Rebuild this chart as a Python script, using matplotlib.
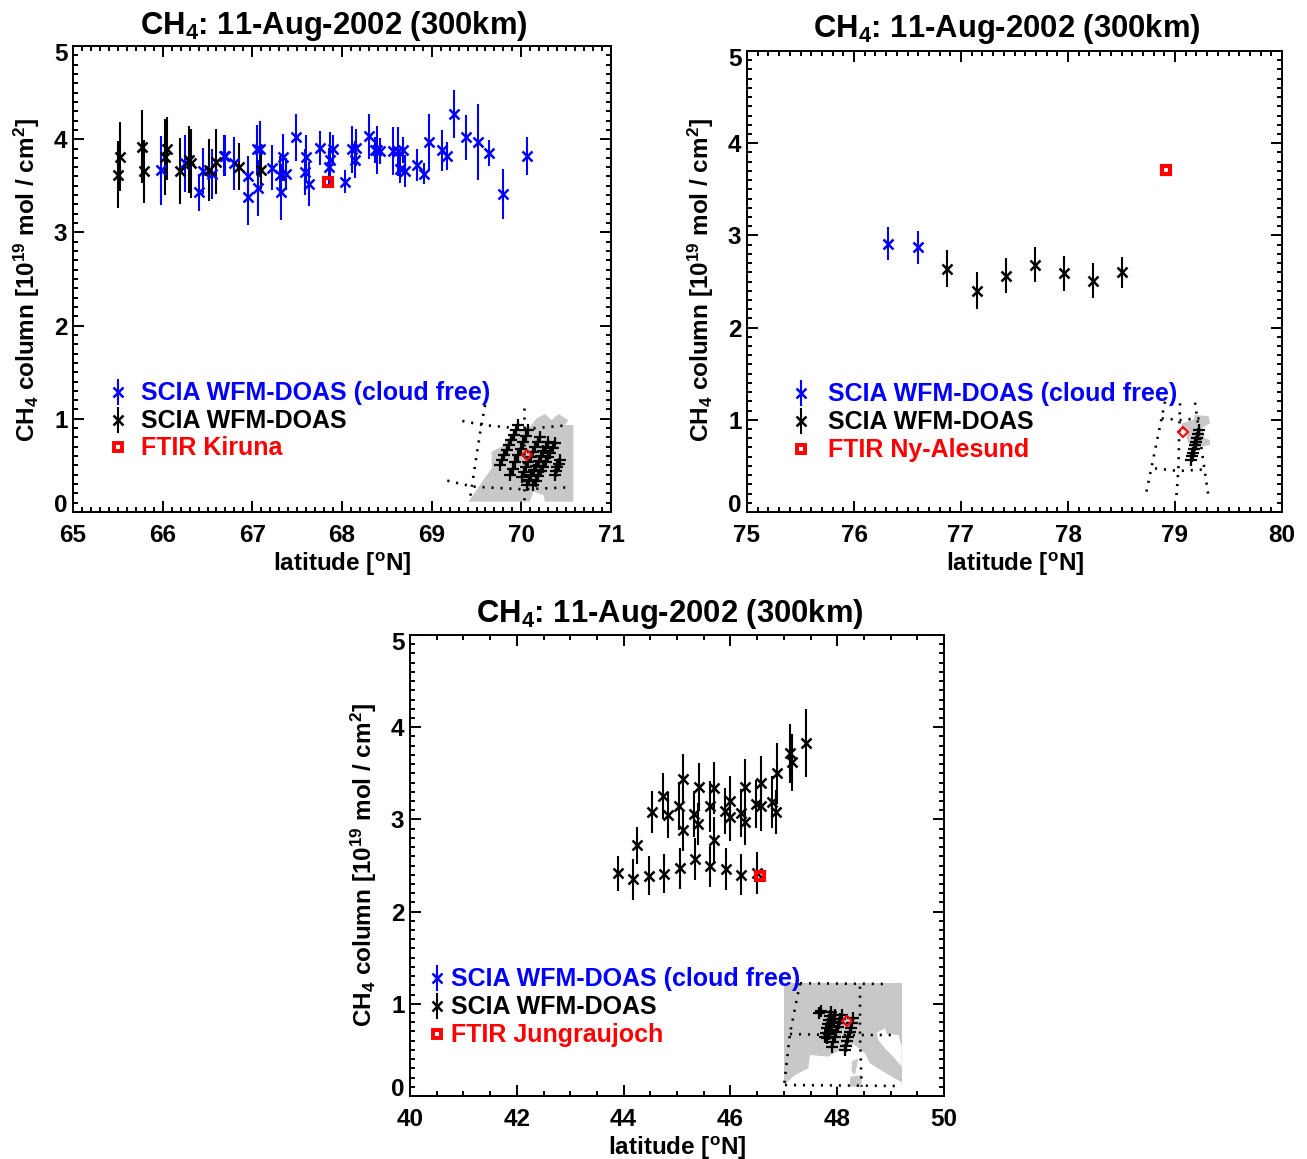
import matplotlib
matplotlib.use("Agg")
import matplotlib.pyplot as plt
from matplotlib.ticker import MultipleLocator
from matplotlib.transforms import ScaledTranslation

plt.rcParams["font.family"] = ["Liberation Sans"]
plt.rcParams["font.weight"] = "bold"
plt.rcParams["mathtext.fontset"] = "custom"
plt.rcParams["mathtext.bf"] = "Liberation Sans:bold"
plt.rcParams["mathtext.rm"] = "Liberation Sans:bold"
plt.rcParams["mathtext.default"] = "bf"

W, H = 1307, 1159

# Kiruna
kir_blue_lat = [65.985, 66.25, 66.40, 66.45, 66.55, 66.68, 66.70, 66.79, 66.95, 66.95, 67.05, 67.08,
                67.06, 67.22, 67.34, 67.32, 67.31, 67.38, 67.49, 67.60, 67.59, 67.635, 67.75, 67.85,
                67.87, 67.90, 68.03, 68.11, 68.16, 68.145, 68.30, 68.39, 68.37, 68.42, 68.57, 68.62,
                68.68, 68.65, 68.70, 68.84, 68.91, 68.97, 69.11, 69.17, 69.25, 69.38, 69.52, 69.64,
                69.79, 70.06]
kir_blue_val = [3.665, 3.74, 3.43, 3.66, 3.63, 3.82, 3.82, 3.74, 3.60, 3.38, 3.89, 3.89,
                3.48, 3.695, 3.805, 3.43, 3.62, 3.63, 4.02, 3.805, 3.65, 3.52, 3.905, 3.705,
                3.78, 3.89, 3.545, 3.89, 3.91, 3.78, 4.03, 3.885, 3.885, 3.875, 3.875, 3.87,
                3.885, 3.68, 3.66, 3.72, 3.63, 3.97, 3.88, 3.82, 4.27, 4.02, 3.97, 3.85,
                3.41, 3.82]
kir_blue_err = [0.37, 0.31, 0.20, 0.25, 0.27, 0.22, 0.22, 0.28, 0.22, 0.30, 0.26, 0.30,
                0.30, 0.24, 0.25, 0.30, 0.20, 0.17, 0.25, 0.24, 0.25, 0.24, 0.18, 0.20,
                0.30, 0.15, 0.12, 0.25, 0.20, 0.20, 0.24, 0.26, 0.14, 0.14, 0.26, 0.26,
                0.14, 0.15, 0.17, 0.17, 0.11, 0.30, 0.22, 0.15, 0.26, 0.24, 0.41, 0.14,
                0.27, 0.20]
kir_black_lat = [65.505, 65.52, 65.77, 65.79, 66.03, 66.05, 66.19, 66.29, 66.32, 66.52, 66.59, 66.85, 67.10]
kir_black_val = [3.62, 3.81, 3.92, 3.655, 3.81, 3.90, 3.66, 3.78, 3.74, 3.67, 3.76, 3.705, 3.67]
kir_black_err = [0.36, 0.37, 0.39, 0.34, 0.41, 0.34, 0.35, 0.36, 0.37, 0.33, 0.35, 0.25, 0.20]
kir_ftir_lat = [67.84]
kir_ftir_val = [3.54]

# Ny-Alesund
ny_blue_lat = [76.32, 76.60]
ny_blue_val = [2.91, 2.87]
ny_blue_err = [0.18, 0.18]
ny_black_lat = [76.87, 77.15, 77.42, 77.69, 77.96, 78.23, 78.50]
ny_black_val = [2.64, 2.40, 2.56, 2.68, 2.59, 2.51, 2.60]
ny_black_err = [0.20, 0.20, 0.19, 0.19, 0.19, 0.19, 0.17]
ny_ftir_lat = [78.92]
ny_ftir_val = [3.71]

# Jungfraujoch
jun_black_lat = [43.90, 44.18, 44.47, 44.76, 45.05, 45.34, 45.62, 45.91, 46.20, 46.49,
                 44.25, 44.54, 44.74, 44.83, 45.03, 45.12, 45.12, 45.32, 45.40, 45.41,
                 45.62, 45.70, 45.69, 45.90, 46.00, 45.99, 46.19, 46.28, 46.28, 46.48,
                 46.57, 46.57, 46.78, 46.87, 46.86, 47.12, 47.15, 47.42]
jun_black_val = [2.415, 2.35, 2.39, 2.41, 2.47, 2.57, 2.49, 2.46, 2.40, 2.42,
                 2.72, 3.08, 3.25, 3.05, 3.15, 3.435, 2.88, 3.06, 2.95, 3.35,
                 3.14, 3.34, 2.78, 3.095, 3.20, 3.03, 3.07, 3.35, 2.975, 3.17,
                 3.39, 3.145, 3.19, 3.50, 3.08, 3.72, 3.62, 3.83]
jun_black_err = [0.19, 0.22, 0.21, 0.21, 0.22, 0.23, 0.22, 0.23, 0.22, 0.23,
                 0.20, 0.23, 0.25, 0.25, 0.26, 0.27, 0.22, 0.25, 0.23, 0.26,
                 0.28, 0.28, 0.25, 0.25, 0.27, 0.26, 0.26, 0.30, 0.25, 0.26,
                 0.30, 0.27, 0.28, 0.33, 0.24, 0.32, 0.31, 0.37]
jun_ftir_lat = [46.55]
jun_ftir_val = [2.39]

# inset maps, in map units of each small box
map1_land_x = [115, 185, 185, 215, 250, 300, 320, 345, 365, 385, 415, 405, 430, 430, 345, 340, 310, 300]
map1_land_y = [335, 235, 185, 170, 125, 110, 85, 72, 90, 72, 90, 105, 105, 335, 335, 315, 305, 335]
map1_grid = [([97, 160, 285, 400], [93, 105, 117, 107]),
             ([52, 130, 280, 415], [272, 290, 298, 292]),
             ([165, 150, 120], [45, 130, 325]),
             ([283, 283], [55, 335])]
map1_tracks = [([265, 258, 251, 244, 237, 230, 223, 216, 210], [105, 120, 135, 150, 165, 180, 195, 210, 225]),
               ([295, 288, 280, 272, 264, 256, 248, 240], [120, 138, 157, 176, 196, 216, 236, 255]),
               ([330, 323, 316, 309, 302, 295, 288, 281, 275], [140, 155, 170, 185, 200, 215, 230, 245, 260]),
               ([355, 348, 340, 333, 326, 319, 311, 304, 297, 290], [155, 170, 184, 198, 212, 227, 241, 256, 270, 285]),
               ([375, 368, 361, 354, 347, 340, 332, 325, 318, 310], [160, 174, 188, 202, 216, 230, 244, 258, 272, 285]),
               ([390, 386, 382, 378, 375], [210, 221, 232, 243, 255])]
map1_site_x = [290]
map1_site_y = [195]

map2_land_x = [155, 190, 195, 235, 240, 215, 225, 240, 240, 215, 200, 180, 170, 170, 155]
map2_land_y = [100, 90, 75, 78, 100, 115, 145, 150, 165, 170, 175, 170, 145, 125, 120]
map2_grid = [([75, 145, 230], [235, 243, 238]),
             ([95, 150, 210], [85, 90, 85]),
             ([105, 65, 45], [35, 230, 325]),
             ([150, 145, 138], [40, 240, 335]),
             ([195, 215, 237], [38, 180, 330])]
map2_tracks = [([207, 204, 201, 198, 195, 192, 189, 186, 183], [120, 132, 144, 155, 166, 177, 188, 199, 210])]
map2_site_x = [160]
map2_site_y = [125]

map3_land_x = [42, 395, 395, 42]
map3_land_y = [38, 38, 345, 345]
map3_sea1_x = [42, 75, 115, 120, 175, 200, 250, 285, 300, 340, 395, 395, 42]
map3_sea1_y = [345, 315, 295, 255, 260, 245, 222, 250, 280, 305, 337, 350, 350]
map3_sea2_x = [320, 345, 350, 385, 395, 395, 370, 345, 325]
map3_sea2_y = [188, 175, 192, 195, 230, 290, 260, 235, 210]
map3_isle1_x = [245, 265, 255, 245]
map3_isle1_y = [275, 265, 315, 305]
map3_isle2_x = [240, 275, 275, 240]
map3_isle2_y = [320, 315, 350, 350]
map3_grid = [([90, 355], [40, 42]),
             ([60, 180, 375], [192, 195, 195]),
             ([45, 390], [345, 348]),
             ([90, 60, 43], [40, 190, 340]),
             ([270, 270, 275], [50, 200, 350])]
map3_tracks = [([152, 148], [122, 130]),
               ([182, 179, 176, 173, 170, 167, 165], [125, 137, 150, 162, 175, 188, 200]),
               ([195, 192, 188, 184, 180, 176, 172, 170], [135, 146, 157, 168, 180, 191, 200, 205]),
               ([215, 211, 207, 203, 198, 194, 190, 185], [135, 148, 160, 172, 187, 200, 215, 230]),
               ([250, 246, 243, 239, 235, 232, 228, 225], [145, 160, 173, 187, 200, 213, 227, 240])]
map3_site_x = [230]
map3_site_y = [152]

YLAB = "CH$_4$ column [10$^{19}$ mol / cm$^2$]"
XLAB = "latitude [$^{o}$N]"
TITLE = "CH$_4$: 11-Aug-2002 (300km)"
LEG_BLUE = "SCIA WFM-DOAS (cloud free)"
LEG_BLACK = "SCIA WFM-DOAS"

fig = plt.figure(figsize=(W / 100, H / 100), dpi=100)


def px_axes(left, top, right, bottom, **kw):
    return fig.add_axes([left / W, 1 - bottom / H, (right - left) / W, (bottom - top) / H], **kw)


def ftext(x, y, s, **kw):
    fig.text(x / W, 1 - y / H, s, **kw)


def setup_axes(ax, xlim, xmajor, xminor):
    ax.set_xlim(*xlim)
    ax.set_ylim(0, 5)
    ax.xaxis.set_major_locator(MultipleLocator(xmajor))
    ax.xaxis.set_minor_locator(MultipleLocator(xminor))
    ax.set_yticks([0, 1, 2, 3, 4, 5])
    ax.yaxis.set_minor_locator(MultipleLocator(0.1))
    ax.tick_params(which="major", direction="in", length=8, width=1.4, top=True, right=True,
                   labelsize=17.5)
    ax.tick_params(which="minor", direction="in", length=3.6, width=1.4, top=True, right=True)
    ax.tick_params(axis="x", which="major", pad=9)
    ax.tick_params(axis="y", which="major", pad=4)
    for s in ax.spines.values():
        s.set_linewidth(1.4)
    labels = ax.get_yticklabels()
    labels[0].set_va("baseline")
    labels[-1].set_va("top")
    # top label sits a little higher than plain top alignment
    labels[-1].set_transform(labels[-1].get_transform() + ScaledTranslation(0, 3 / 100, fig.dpi_scale_trans))


def points(ax, lat, val, err, color):
    ax.errorbar(lat, val, yerr=err, fmt="x", color=color, ms=7.2, mew=1.8, elinewidth=1.5, capsize=0)


def ftir(ax, lat, val):
    ax.plot(lat, val, "s", ms=6.2, mfc="none", mec="red", mew=3, zorder=6)


def legend(mx, tx, rows, site):
    lax = fig.add_axes([0, 0, 1, 1], facecolor="none")
    lax.set_xlim(0, W)
    lax.set_ylim(H, 0)
    lax.axis("off")
    for row, color, label in zip(rows, ["blue", "black", "red"], [LEG_BLUE, LEG_BLACK, site]):
        if color == "red":
            lax.plot([mx], [row], "s", ms=5.8, mfc="none", mec="red", mew=2.8)
        else:
            lax.plot([mx, mx], [row - 12, row + 12], color=color, lw=1.5)
            lax.plot([mx], [row], "x", ms=6.5, mew=1.8, color=color)
        lax.text(tx, row + 1, label, color=color, fontsize=18, va="center", ha="left")


def inset(box, w, h, lands, whites, grid, tracks, site_x, site_y, greys=()):
    iax = px_axes(box[0], box[1], box[0] + w / 3, box[1] + h / 3, facecolor="none")
    iax.set_xlim(0, w)
    iax.set_ylim(h, 0)
    iax.axis("off")
    for lx, ly in lands:
        iax.fill(lx, ly, color="#c8c8c8", lw=0)
    for lx, ly in whites:
        iax.fill(lx, ly, color="white", lw=0)
    for lx, ly in greys:
        iax.fill(lx, ly, color="#c8c8c8", lw=0)
    for gx, gy in grid:
        iax.plot(gx, gy, color="black", lw=1.9, ls=(0, (0.8, 2.6)))
    for tx, ty in tracks:
        iax.plot(tx, ty, "-+", color="black", lw=1.8, ms=8, mew=1.6)
    iax.plot(site_x, site_y, "D", ms=5.6, mfc="none", mec="red", mew=1.5)


ax1 = px_axes(73, 46, 611, 512)
points(ax1, kir_blue_lat, kir_blue_val, kir_blue_err, "blue")
points(ax1, kir_black_lat, kir_black_val, kir_black_err, "black")
ftir(ax1, kir_ftir_lat, kir_ftir_val)
setup_axes(ax1, (65, 71), 1, 0.1)

ax2 = px_axes(747, 51, 1282, 512)
points(ax2, ny_blue_lat, ny_blue_val, ny_blue_err, "blue")
points(ax2, ny_black_lat, ny_black_val, ny_black_err, "black")
ftir(ax2, ny_ftir_lat, ny_ftir_val)
setup_axes(ax2, (75, 80), 1, 0.1)

ax3 = px_axes(410, 635, 944, 1096)
points(ax3, jun_black_lat, jun_black_val, jun_black_err, "black")
ftir(ax3, jun_ftir_lat, jun_ftir_val)
setup_axes(ax3, (40, 50), 2, 0.5)

for tx, ty, yx, yy, xx, xy in [(334, 26, 27, 280, 342, 564),
                               (1007, 29, 701, 280, 1015, 564),
                               (670, 614, 364, 865, 677, 1148)]:
    ftext(tx, ty, TITLE, fontsize=22.3, ha="center", va="center")
    ftext(yx, yy, YLAB, fontsize=17.5, rotation=90, ha="center", va="center")
    ftext(xx, xy, XLAB, fontsize=17.5, ha="center", va="center")

inset((430, 390), 510, 375, [(map1_land_x, map1_land_y)], [], map1_grid,
      map1_tracks, map1_site_x, map1_site_y)
inset((1130, 390), 330, 375, [(map2_land_x, map2_land_y)], [], map2_grid,
      map2_tracks, map2_site_x, map2_site_y)
inset((770, 970), 450, 390, [(map3_land_x, map3_land_y)],
      [(map3_sea1_x, map3_sea1_y), (map3_sea2_x, map3_sea2_y)], map3_grid,
      map3_tracks, map3_site_x, map3_site_y,
      greys=[(map3_isle1_x, map3_isle1_y), (map3_isle2_x, map3_isle2_y)])

legend(118, 141, [392, 420, 447], "FTIR Kiruna")
legend(801, 828, [393, 421, 449], "FTIR Ny-Alesund")
legend(437, 451, [978, 1006, 1034], "FTIR Jungraujoch")

fig.savefig("out.png", dpi=100)
